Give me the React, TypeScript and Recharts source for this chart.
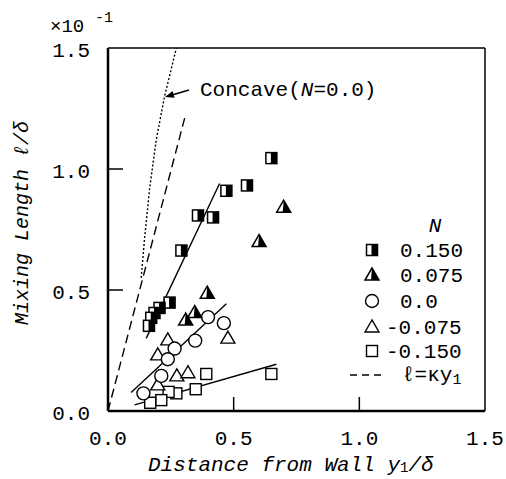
import React from "react";
import { ScatterChart, Scatter, XAxis, YAxis, ReferenceLine } from "recharts";

// y values are in units of 1e-1 (see the "x10^-1" mark)
const n150 = [
  { x: 0.65, y: 1.045 }, { x: 0.553, y: 0.932 }, { x: 0.471, y: 0.91 },
  { x: 0.418, y: 0.8 }, { x: 0.358, y: 0.808 }, { x: 0.292, y: 0.663 },
  { x: 0.245, y: 0.448 }, { x: 0.205, y: 0.426 }, { x: 0.185, y: 0.405 },
  { x: 0.172, y: 0.385 }, { x: 0.163, y: 0.352 },
];
const n075 = [
  { x: 0.699, y: 0.842 }, { x: 0.601, y: 0.7 }, { x: 0.395, y: 0.487 },
  { x: 0.345, y: 0.407 }, { x: 0.309, y: 0.376 },
];
const n000 = [
  { x: 0.398, y: 0.388 }, { x: 0.461, y: 0.363 }, { x: 0.347, y: 0.291 },
  { x: 0.265, y: 0.258 }, { x: 0.238, y: 0.214 }, { x: 0.212, y: 0.145 },
  { x: 0.141, y: 0.073 },
];
const nm075 = [
  { x: 0.238, y: 0.294 }, { x: 0.198, y: 0.232 }, { x: 0.198, y: 0.108 },
  { x: 0.274, y: 0.145 }, { x: 0.318, y: 0.158 }, { x: 0.477, y: 0.301 },
];
const nm150 = [
  { x: 0.391, y: 0.153 }, { x: 0.65, y: 0.153 }, { x: 0.349, y: 0.09 },
  { x: 0.272, y: 0.073 }, { x: 0.241, y: 0.079 }, { x: 0.212, y: 0.045 },
  { x: 0.168, y: 0.034 },
];

const fit150 = [{ x: 0.152, y: 0.3 }, { x: 0.444, y: 0.94 }];
const fit000 = [{ x: 0.092, y: 0.076 }, { x: 0.471, y: 0.443 }];
const fitM150 = [{ x: 0.106, y: 0.025 }, { x: 0.67, y: 0.193 }];
const kappaLine = [{ x: 0, y: 0 }, { x: 0.305, y: 1.21 }];
const concave = [
  { x: 0.132, y: 0.55 }, { x: 0.145, y: 0.707 }, { x: 0.165, y: 0.914 },
  { x: 0.192, y: 1.121 }, { x: 0.225, y: 1.3 }, { x: 0.272, y: 1.5 },
];

const ticks = [0, 0.5, 1.0, 1.5];
const legendLabels = ["0.150", "0.075", "0.0", "-0.075", "-0.150"];

const FONT = "'Liberation Mono', 'DejaVu Sans Mono', monospace";

const HalfSquare = ({ cx, cy }: any) => (
  <g>
    <rect x={cx - 5.5} y={cy - 5.5} width={11} height={11} fill="#fff" stroke="#000" strokeWidth={1.5} />
    <rect x={cx - 0.5} y={cy - 5.5} width={6} height={11} fill="#000" />
  </g>
);
const HalfTriangle = ({ cx, cy }: any) => (
  <g>
    <polygon points={`${cx},${cy - 7} ${cx - 7},${cy + 5} ${cx + 7},${cy + 5}`} fill="#fff" stroke="#000" strokeWidth={1.5} />
    <polygon points={`${cx},${cy - 7} ${cx + 7},${cy + 5} ${cx - 1},${cy + 5}`} fill="#000" />
  </g>
);
const OpenCircle = ({ cx, cy }: any) => (
  <circle cx={cx} cy={cy} r={6.5} fill="#fff" stroke="#000" strokeWidth={1.4} />
);
const OpenTriangle = ({ cx, cy }: any) => (
  <polygon points={`${cx},${cy - 7} ${cx - 7},${cy + 5} ${cx + 7},${cy + 5}`} fill="#fff" stroke="#000" strokeWidth={1.4} />
);
const OpenSquare = ({ cx, cy }: any) => (
  <rect x={cx - 5.5} y={cy - 5.5} width={11} height={11} fill="#fff" stroke="#000" strokeWidth={1.4} />
);
const NoDot = () => <g />;

const markers = [HalfSquare, HalfTriangle, OpenCircle, OpenTriangle, OpenSquare];

const XTick = ({ x, y, payload }: any) => {
  const ay = y - 8;
  const v = payload.value;
  return (
    <g>
      {v > 0 && v < 1.5 && <line x1={x} x2={x} y1={ay} y2={ay - 14} stroke="#000" strokeWidth={1.5} />}
      <text x={x} y={ay + 34} textAnchor="middle" fontFamily={FONT} fontSize={21} fill="#000">
        {v.toFixed(1)}
      </text>
    </g>
  );
};

const YTick = ({ x, y, payload }: any) => {
  const ax = x + 18;
  const v = payload.value;
  return (
    <g>
      {v > 0 && v < 1.5 && <line x1={ax} x2={ax + 15} y1={y} y2={y} stroke="#000" strokeWidth={1.5} />}
      <text x={x} y={y + 9} textAnchor="end" fontFamily={FONT} fontSize={21} fill="#000">
        {v.toFixed(1)}
      </text>
    </g>
  );
};

export default function App() {
  const rowY = [250, 275, 301, 327, 351];
  return (
    <div style={{ position: "absolute", left: 0, top: 0, width: 506, height: 479, background: "#fff" }}>
      <ScatterChart width={506} height={479} margin={{ top: 48, right: 21, left: 0, bottom: 0 }}>
        <XAxis type="number" dataKey="x" domain={[0, 1.5]} ticks={ticks} height={68}
          tickSize={0} tickMargin={8} tick={<XTick />} axisLine={{ stroke: "#000", strokeWidth: 2.5 }}
          allowDataOverflow />
        <YAxis type="number" dataKey="y" domain={[0, 1.5]} ticks={ticks} width={108}
          tickSize={0} tickMargin={18} tick={<YTick />} axisLine={{ stroke: "#000", strokeWidth: 2.5 }}
          allowDataOverflow />
        <ReferenceLine y={1.5} stroke="#000" strokeWidth={1.5} />
        <ReferenceLine x={1.5} stroke="#000" strokeWidth={1.5} />

        <Scatter data={concave} line={{ stroke: "#000", strokeWidth: 1.4, strokeDasharray: "2 2" }} lineType="joint" shape={NoDot} isAnimationActive={false} />
        <Scatter data={kappaLine} line={{ stroke: "#000", strokeWidth: 1.4, strokeDasharray: "9 5" }} lineType="joint" shape={NoDot} isAnimationActive={false} />
        <Scatter data={fit150} line={{ stroke: "#000", strokeWidth: 1.4 }} lineType="joint" shape={NoDot} isAnimationActive={false} />
        <Scatter data={fit000} line={{ stroke: "#000", strokeWidth: 1.4 }} lineType="joint" shape={NoDot} isAnimationActive={false} />
        <Scatter data={fitM150} line={{ stroke: "#000", strokeWidth: 1.4 }} lineType="joint" shape={NoDot} isAnimationActive={false} />

        <Scatter data={nm150} shape={(p: any) => <OpenSquare cx={p.cx} cy={p.cy} />} isAnimationActive={false} />
        <Scatter data={nm075} shape={(p: any) => <OpenTriangle cx={p.cx} cy={p.cy} />} isAnimationActive={false} />
        <Scatter data={n000} shape={(p: any) => <OpenCircle cx={p.cx} cy={p.cy} />} isAnimationActive={false} />
        <Scatter data={n075} shape={(p: any) => <HalfTriangle cx={p.cx} cy={p.cy} />} isAnimationActive={false} />
        <Scatter data={n150} shape={(p: any) => <HalfSquare cx={p.cx} cy={p.cy} />} isAnimationActive={false} />
      </ScatterChart>

      <svg width={506} height={479} style={{ position: "absolute", left: 0, top: 0, pointerEvents: "none" }}>
        <g fontFamily={FONT} fill="#000">
          <text x={50} y={32} fontSize={19}>×10</text>
          <text x={95} y={22} fontSize={15}>-1</text>

          <text x={200} y={96} fontSize={21}>
            Concave(<tspan fontStyle="italic">N</tspan>=0.0)
          </text>
          <line x1={189} y1={90} x2={172} y2={95} stroke="#000" strokeWidth={1.5} />
          <polygon points="165,97 174.6,97.8 172.6,91" fill="#000" />

          <text x={435} y={232} fontSize={21} fontStyle="italic" textAnchor="middle">N</text>
          {legendLabels.map((lab, i) => {
            const M = markers[i];
            const neg = lab.startsWith("-");
            return (
              <g key={lab}>
                <M cx={372} cy={rowY[i]} />
                <text x={neg ? 386 : 400} y={rowY[i] + 7} fontSize={21}>{lab}</text>
              </g>
            );
          })}
          <line x1={350} x2={382} y1={375} y2={375} stroke="#000" strokeWidth={1.4} strokeDasharray="7 5" />
          <text x={402} y={381} fontSize={21}>
            ℓ=κy<tspan fontSize={15} dy={3}>1</tspan>
          </text>

          <text x={148} y={471} fontSize={21} fontStyle="italic">
            Distance from Wall y<tspan fontSize={14} dy={1} fontStyle="normal">1</tspan><tspan dy={-1}>/δ</tspan>
          </text>
          <text transform="translate(28,223) rotate(-90)" fontSize={20} fontStyle="italic" textAnchor="middle">
            Mixing Length ℓ/δ
          </text>
        </g>
      </svg>
    </div>
  );
}
